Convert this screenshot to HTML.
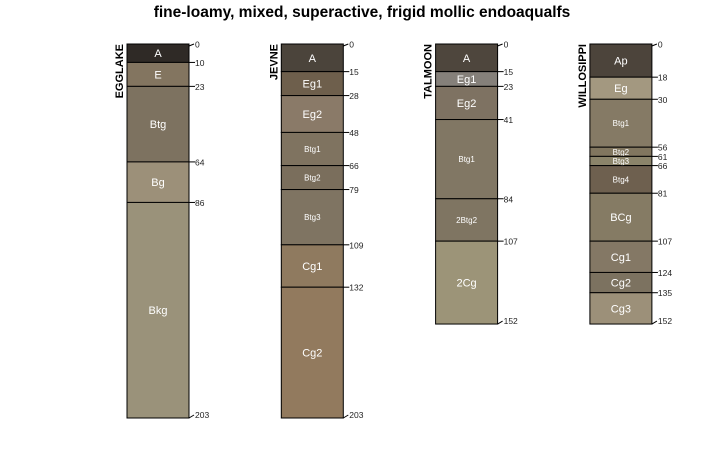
<!DOCTYPE html>
<html><head><meta charset="utf-8"><style>
body{margin:0;background:#fff;}
svg{display:block;font-family:"Liberation Sans",Arial,sans-serif;}
</style></head><body>
<svg id="chart" width="725" height="450">
<text x="362" y="17" text-anchor="middle" font-size="15.5" font-weight="bold" fill="#000">fine-loamy, mixed, superactive, frigid mollic endoaqualfs</text>
<g id="profiles"></g>
</svg>
<script>
const profileNames=["EGGLAKE","JEVNE","TALMOON","WILLOSIPPI"];
const horizonNames=[
 ["A","E","Btg","Bg","Bkg"],
 ["A","Eg1","Eg2","Btg1","Btg2","Btg3","Cg1","Cg2"],
 ["A","Eg1","Eg2","Btg1","2Btg2","2Cg"],
 ["Ap","Eg","Btg1","Btg2","Btg3","Btg4","BCg","Cg1","Cg2","Cg3"]
];
const horizonDepths=[
 [0,10,23,64,86,203],
 [0,15,28,48,66,79,109,132,203],
 [0,15,23,41,84,107,152],
 [0,18,30,56,61,66,81,107,124,135,152]
];
const horizonColors=[
 ["#2f2a26","#837560","#7d7260","#9c9079","#9a927a"],
 ["#4b443b","#6e5f4c","#8a7a68","#7f7360","#7a6e5c","#7f7462","#8f7a5f","#927a5e"],
 ["#4e463d","#85807a","#7e7262","#817764","#7f7562","#9c9478"],
 ["#4c443b","#a39880","#857a65","#81765f","#8b846a","#6e604f","#857b64","#847865","#7c7260","#9c9079"]
];
const ns="http://www.w3.org/2000/svg";
const y0=44, pxPerCm=374/203, colW=62;
const yScale=d=>y0+d*pxPerCm;
const xScale=i=>127+i*154.3;
const g=document.getElementById('profiles');
function mk(tag,attrs,parent){const e=document.createElementNS(ns,tag);for(const k in attrs)e.setAttribute(k,attrs[k]);parent.appendChild(e);return e;}
profileNames.forEach((name,i)=>{
 const x=xScale(i);
 const pg=mk('g',{},g);
 
 
 const d=horizonDepths[i];
 const lbl=mk('text',{x:0,y:0,transform:`translate(${x-4},${y0}) rotate(-90)`,'text-anchor':'end','font-size':11,'font-weight':'bold',fill:'#000'},pg);
 lbl.textContent=name;
 
 
 for(let j=0;j<horizonNames[i].length;j++){
  const ya=yScale(d[j]),yb=yScale(d[j+1]);
  const r=mk('rect',{x:x,y:ya,width:colW,height:yb-ya,fill:horizonColors[i][j],stroke:'#000','stroke-width':1},pg);
  
  
  const small=/Btg\d/.test(horizonNames[i][j]);
  const t=mk('text',{x:x+colW/2,y:(ya+yb)/2+(small?3:4),'text-anchor':'middle','font-size':small?8:11,fill:'#fff'},pg);
  t.textContent=horizonNames[i][j];
  
  
 }
 d.forEach((v,k)=>{
  const yy=yScale(v);
  const last=k===d.length-1;
  const tk=mk('path',{d:k===0?`M${x+colW} ${yy+2} L${x+colW+5} ${yy}`:(last?`M${x+colW} ${yy} L${x+colW+5} ${yy-3}`:`M${x+colW} ${yy} L${x+colW+6} ${yy}`),stroke:'#000',fill:'none','stroke-width':1},pg);
  
  
  const tt=mk('text',{x:x+colW+6,y:yy+(last?0:3.5),'font-size':8.5,fill:'#222'},pg);
  tt.textContent=v;
  
  
 });
});
</script>
</body></html>
